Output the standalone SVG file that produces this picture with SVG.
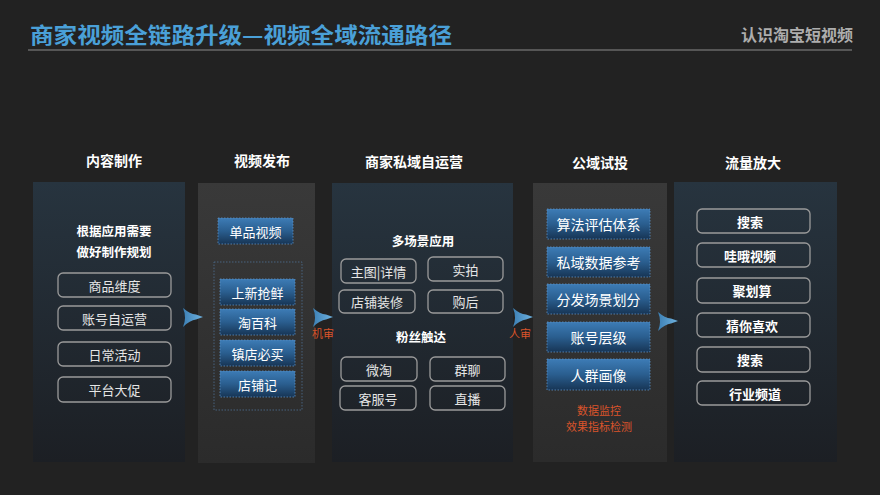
<svg xmlns="http://www.w3.org/2000/svg" width="880" height="495" viewBox="0 0 880 495">
<defs>
<linearGradient id="gBluePanel" x1="0" y1="0" x2="0" y2="1"><stop offset="0" stop-color="#27343f"/><stop offset="1" stop-color="#1c1f24"/></linearGradient>
<linearGradient id="gGrayPanel" x1="0" y1="0" x2="0" y2="1"><stop offset="0" stop-color="#393939"/><stop offset="1" stop-color="#2b2b2b"/></linearGradient>
<linearGradient id="gBtn" x1="0" y1="0" x2="0" y2="1"><stop offset="0" stop-color="#3d7cb6"/><stop offset="0.5" stop-color="#2a5e8f"/><stop offset="1" stop-color="#173555"/></linearGradient>
<linearGradient id="gArrow" x1="0" y1="0" x2="1" y2="0"><stop offset="0" stop-color="#3c7fb4"/><stop offset="1" stop-color="#6fb3e0"/></linearGradient>
<path id="arr" d="M0,0 Q7,6 13,6.5 L20,9 L13,11.5 Q7,12 0,19 Q4,9.5 0,0 Z"/>
</defs>
<style>
text{font-family:"Noto Sans CJK SC","Noto Sans",sans-serif;dominant-baseline:central;text-anchor:middle}
.ttl{font-size:14px;font-weight:bold;fill:#ffffff}
.sub{font-size:12.5px;font-weight:bold;fill:#ffffff}
.ol{fill:none;stroke:#9a9a9a;stroke-width:1.3}
.olt{font-size:13px;fill:#e6e6e6}
.olb{font-size:13px;font-weight:bold;fill:#ffffff}
.btn{fill:url(#gBtn);stroke:#5d90c2;stroke-width:0.8;stroke-dasharray:1.5 1.5}
.btt{font-size:13px;fill:#ffffff}
.red{font-size:11px;fill:#d9542b}
.arrow{fill:url(#gArrow)}
</style>
<rect width="880" height="495" fill="#222222"/>
<g id="header">
<text x="30" y="33" style="text-anchor:start;font-size:22px;font-weight:bold;fill:#4aa0d8" textLength="422" lengthAdjust="spacingAndGlyphs">商家视频全链路升级—视频全域流通路径</text>
<text x="853" y="34" style="text-anchor:end;font-size:16px;font-weight:bold;fill:#adadad">认识淘宝短视频</text>
<line x1="28" y1="50" x2="852" y2="50" stroke="#8a8a8a" stroke-width="1.2"/>
</g>
<g id="col1">
<text class="ttl" x="114" y="160">内容制作</text>
<rect x="33" y="182" width="152" height="280" fill="url(#gBluePanel)"/>
<text class="sub" x="114" y="230">根据应用需要</text>
<text class="sub" x="114" y="251">做好制作规划</text>
<rect class="ol" x="58" y="273" width="113" height="24" rx="5"/><text class="olt" x="114.5" y="285">商品维度</text>
<rect class="ol" x="58" y="306" width="113" height="24" rx="5"/><text class="olt" x="114.5" y="318">账号自运营</text>
<rect class="ol" x="58" y="342" width="113" height="24" rx="5"/><text class="olt" x="114.5" y="354">日常活动</text>
<rect class="ol" x="58" y="377" width="113" height="25" rx="5"/><text class="olt" x="114.5" y="389.5">平台大促</text>
</g>
<g id="col2">
<text class="ttl" x="262" y="160">视频发布</text>
<rect x="198" y="183" width="117" height="280" fill="url(#gGrayPanel)"/>
<rect class="btn" x="218" y="218" width="75" height="26"/><text class="btt" x="255.5" y="231">单品视频</text>
<rect x="214" y="262" width="88" height="148" fill="none" stroke="#4f6f92" stroke-width="0.8" stroke-dasharray="1.5 1.5"/>
<rect class="btn" x="220" y="279" width="75" height="26"/><text class="btt" x="257.5" y="292">上新抢鲜</text>
<rect class="btn" x="220" y="309" width="75" height="26"/><text class="btt" x="257.5" y="322">淘百科</text>
<rect class="btn" x="220" y="340" width="75" height="26"/><text class="btt" x="257.5" y="353">镇店必买</text>
<rect class="btn" x="220" y="371" width="75" height="26"/><text class="btt" x="257.5" y="384">店铺记</text>
</g>
<g id="col3">
<text class="ttl" x="414" y="161">商家私域自运营</text>
<rect x="332" y="183" width="181" height="279" fill="url(#gBluePanel)"/>
<text class="sub" x="423" y="240">多场景应用</text>
<rect class="ol" x="341" y="259" width="75" height="24" rx="5"/><text class="olt" x="378.5" y="271">主图|详情</text>
<rect class="ol" x="428" y="257" width="75" height="24" rx="5"/><text class="olt" x="465.5" y="269">实拍</text>
<rect class="ol" x="339" y="290" width="76" height="23" rx="5"/><text class="olt" x="377" y="301.5">店铺装修</text>
<rect class="ol" x="428" y="290" width="75" height="23" rx="5"/><text class="olt" x="465.5" y="301.5">购后</text>
<text class="sub" x="421" y="336">粉丝触达</text>
<rect class="ol" x="341" y="357" width="76" height="24" rx="5"/><text class="olt" x="379" y="369">微淘</text>
<rect class="ol" x="430" y="357" width="75" height="24" rx="5"/><text class="olt" x="467.5" y="369">群聊</text>
<rect class="ol" x="340" y="386" width="76" height="24" rx="5"/><text class="olt" x="378" y="398">客服号</text>
<rect class="ol" x="430" y="386" width="75" height="24" rx="5"/><text class="olt" x="467.5" y="398">直播</text>
</g>
<g id="col4">
<text class="ttl" x="600" y="162">公域试投</text>
<rect x="533" y="183" width="134" height="279" fill="url(#gGrayPanel)"/>
<rect class="btn" x="547" y="209" width="103" height="30"/><text class="btt" x="598.5" y="224" style="font-size:14px">算法评估体系</text>
<rect class="btn" x="547" y="247" width="103" height="30"/><text class="btt" x="598.5" y="262" style="font-size:14px">私域数据参考</text>
<rect class="btn" x="547" y="284" width="103" height="30"/><text class="btt" x="598.5" y="299" style="font-size:14px">分发场景划分</text>
<rect class="btn" x="547" y="322" width="103" height="30"/><text class="btt" x="598.5" y="337" style="font-size:14px">账号层级</text>
<rect class="btn" x="547" y="359" width="103" height="31"/><text class="btt" x="598.5" y="374.5" style="font-size:14px">人群画像</text>
<text class="red" x="599" y="410">数据监控</text>
<text class="red" x="599" y="426">效果指标检测</text>
</g>
<g id="col5">
<text class="ttl" x="753" y="162">流量放大</text>
<rect x="674" y="182" width="163" height="280" fill="url(#gBluePanel)"/>
<rect class="ol" x="697" y="209" width="113" height="24" rx="5"/><text class="olb" x="750" y="221">搜索</text>
<rect class="ol" x="697" y="243" width="113" height="24" rx="5"/><text class="olb" x="750" y="255">哇哦视频</text>
<rect class="ol" x="697" y="278" width="113" height="25" rx="5"/><text class="olb" x="752" y="290.5">聚划算</text>
<rect class="ol" x="697" y="313" width="113" height="24" rx="5"/><text class="olb" x="752" y="325">猜你喜欢</text>
<rect class="ol" x="697" y="347" width="113" height="25" rx="5"/><text class="olb" x="750" y="359.5">搜索</text>
<rect class="ol" x="697" y="381" width="113" height="24" rx="5"/><text class="olb" x="755" y="393">行业频道</text>
</g>
<g id="connectors">
<use href="#arr" class="arrow" transform="translate(183,308)"/>
<use href="#arr" class="arrow" transform="translate(313,308)"/>
<text class="red" x="323" y="333">机审</text>
<use href="#arr" class="arrow" transform="translate(513,308)"/>
<text class="red" x="520" y="333">人审</text>
<use href="#arr" class="arrow" transform="translate(658,312)"/>
</g>
</svg>
